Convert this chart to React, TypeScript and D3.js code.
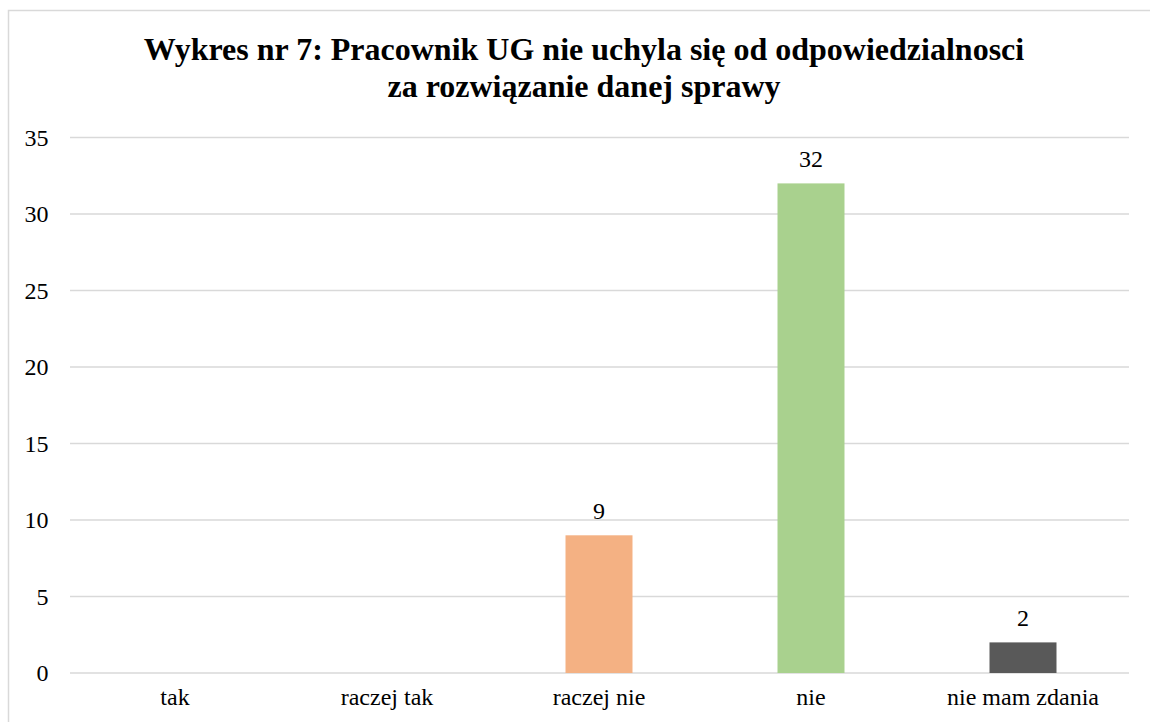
import React from "react";
import * as d3 from "d3";

const categories = ["tak", "raczej tak", "raczej nie", "nie", "nie mam zdania"];
const values = [0, 0, 9, 32, 2];
const colors = ["#4472C4", "#ED7D31", "#F4B183", "#A9D18E", "#595959"];
const yTicks = [0, 5, 10, 15, 20, 25, 30, 35];
const titleLines = [
  "Wykres nr 7: Pracownik UG nie uchyla się od odpowiedzialnosci",
  "za rozwiązanie danej sprawy",
];

const font = "Liberation Serif, Times New Roman, Tinos, serif";

export default function App() {
  const W = 1150;
  const H = 722;
  const left = 69;
  const right = 1129;
  const top = 137.5;
  const bottom = 673;
  const x = d3.scaleBand<string>().domain(categories).range([left, right]).paddingInner(0.684).paddingOuter(0.342);
  const y = d3.scaleLinear().domain([0, 35]).range([bottom, top]);
  const txt = { fontFamily: font } as React.CSSProperties;
  return (
    <svg width={W} height={H} style={{ position: "absolute", left: 0, top: 0, fontFamily: font }}>
      <rect x={0} y={0} width={W} height={H} fill="#fff" />
      <rect x={8.5} y={10.5} width={W + 20} height={H + 20} fill="none" stroke="#d9d9d9" strokeWidth={1.5} />
      {titleLines.map((t, i) => (
        <text key={i} x={584} y={60 + i * 37} textAnchor="middle" style={txt} fontWeight="bold" fontSize={32} fill="#000">
          {t}
        </text>
      ))}
      {yTicks.map((t) => (
        <g key={t}>
          <line x1={left + 1} x2={right} y1={y(t)} y2={y(t)} stroke="#d9d9d9" strokeWidth={1.5} />
          <text x={48.5} y={y(t) + 8} textAnchor="end" style={txt} fontSize={24} fill="#000">
            {t}
          </text>
        </g>
      ))}
      {categories.map((c, i) =>
        values[i] > 0 ? (
          <g key={c}>
            <rect x={x(c)} y={y(values[i])} width={x.bandwidth()} height={bottom - y(values[i])} fill={colors[i]} />
            <text x={(x(c) as number) + x.bandwidth() / 2} y={y(values[i]) - 16.5} textAnchor="middle" style={txt} fontSize={24} fill="#000">
              {values[i]}
            </text>
          </g>
        ) : null
      )}
      {categories.map((c) => (
        <text key={c} x={(x(c) as number) + x.bandwidth() / 2} y={705} textAnchor="middle" style={txt} fontSize={24} fill="#000">
          {c}
        </text>
      ))}
    </svg>
  );
}
